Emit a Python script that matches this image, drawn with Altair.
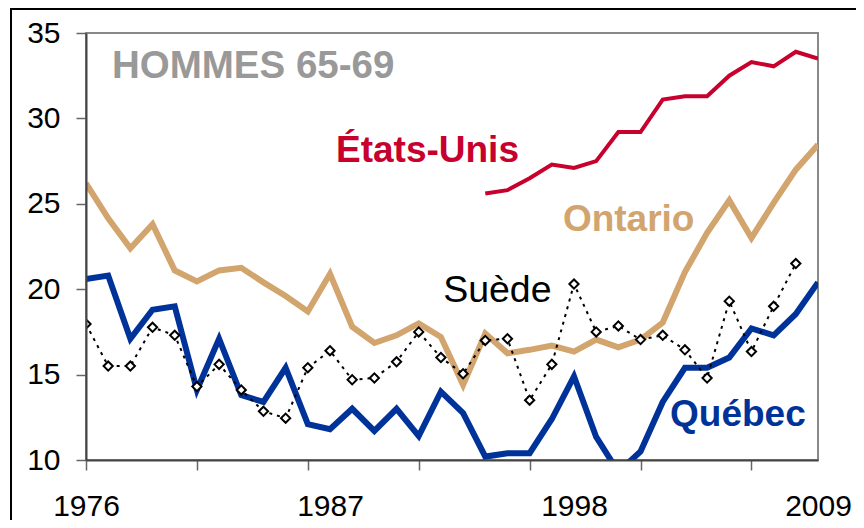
import altair as alt
import pandas as pd

# ---- data ----
years = list(range(1976, 2010))
quebec = [20.6, 20.8, 17.1, 18.8, 19.0, 14.1, 17.1, 13.8, 13.4, 15.4,
          12.1, 11.8, 13.0, 11.7, 13.0, 11.4, 14.0, 12.75, 10.2, 10.4,
          10.4, 12.4, 14.9, 11.35, 9.3, 10.5, 13.4, 15.4, 15.4, 16.0,
          17.7, 17.3, 18.55, 20.4]
ontario = [26.2, 24.15, 22.4, 23.8, 21.1, 20.45, 21.1, 21.25, 20.4, 19.6,
           18.7, 20.9, 17.8, 16.85, 17.3, 18.0, 17.2, 14.4, 17.4, 16.25,
           16.45, 16.7, 16.35, 17.05, 16.6, 17.05, 18.05, 21.0, 23.3, 25.2,
           23.0, 25.05, 27.0, 28.45]
us_years = list(range(1994, 2010))
etats_unis = [25.6, 25.8, 26.5, 27.3, 27.1, 27.5, 29.2, 29.2, 31.1, 31.3,
              31.3, 32.5, 33.3, 33.05, 33.9, 33.5]
se_years = list(range(1976, 2009))
suede = [17.96, 15.5, 15.5, 17.77, 17.3, 14.3, 15.6, 14.1, 12.85, 12.45,
         15.4, 16.4, 14.7, 14.8, 15.75, 17.5, 16.0, 15.05, 17.0, 17.1,
         13.5, 15.6, 20.3, 17.5, 17.85, 17.05, 17.3, 16.45, 14.8, 19.3,
         16.35, 19.0, 21.5]

y_ticks = [10, 15, 20, 25, 30, 35]
x_tick_marks = [1976, 1981, 1986, 1991, 1996, 2001, 2006]
x_tick_labels = [1976, 1987, 1998, 2009]

label_texts = ["HOMMES 65-69", "États-Unis", "Ontario", "Suède", "Québec"]
label_years = [1977.17, 1987.27, 1997.5, 1992.1, 2002.33]
label_values = [32.37, 27.45, 23.4, 19.25, 11.99]

FONT = "Liberation Sans"

df_q = pd.DataFrame({"year": years, "value": quebec})
df_o = pd.DataFrame({"year": years, "value": ontario})
df_u = pd.DataFrame({"year": us_years, "value": etats_unis})
df_s = pd.DataFrame({"year": se_years, "value": suede})
df_lab = pd.DataFrame({"year": label_years, "value": label_values, "text": label_texts})

all_x_vals = sorted(set(x_tick_marks) | set(x_tick_labels))
tick_list = ",".join(str(v) for v in x_tick_marks)
lab_list = ",".join(str(v) for v in x_tick_labels)

x_enc = alt.X(
    "year:Q",
    scale=alt.Scale(domain=[1976, 2009], nice=False, zero=False),
    axis=alt.Axis(
        values=all_x_vals,
        labelExpr=f"indexof([{lab_list}], datum.value) >= 0 ? '' + datum.value : ''",
        tickOpacity={"condition": {"test": f"indexof([{tick_list}], datum.value) >= 0", "value": 1}, "value": 0},
        tickSize=10, tickColor="#666666", tickWidth=1.5,
        domainColor="#444444", domainWidth=2,
        labelFont=FONT, labelFontSize=30, labelColor="black",
        labelPadding=21, labelFlush=False, labelOverlap=False, labelBound=False,
        grid=False, title=None, zindex=1,
    ),
)
y_enc = alt.Y(
    "value:Q",
    scale=alt.Scale(domain=[10, 35], nice=False, zero=False),
    axis=alt.Axis(
        values=y_ticks, format="d",
        tickSize=10, tickColor="#666666", tickWidth=1.5,
        domainColor="#444444", domainWidth=2,
        labelFont=FONT, labelFontSize=30, labelColor="black",
        labelPadding=16, labelOverlap=False,
        grid=False, title=None, zindex=1,
    ),
)

def line(df, color, width, **kw):
    return alt.Chart(df).mark_line(color=color, strokeWidth=width, clip=True,
                                   strokeJoin="miter", **kw).encode(x=x_enc, y=y_enc)

ontario_l = line(df_o, "#D2A46E", 6)
us_l = line(df_u, "#C8002D", 4)
quebec_l = line(df_q, "#003399", 6)
suede_l = line(df_s, "black", 2, strokeDash=[3, 5])
suede_p = alt.Chart(df_s).mark_point(shape="diamond", size=85, filled=True, fill="white",
                                     stroke="black", strokeWidth=2, opacity=1, clip=True).encode(x=x_enc, y=y_enc)

def label(i, color, size, weight):
    return alt.Chart(df_lab).transform_filter(
        alt.datum.text == label_texts[i]
    ).mark_text(align="left", baseline="alphabetic", font=FONT, fontSize=size,
                fontWeight=weight, color=color).encode(x=x_enc, y=y_enc, text="text:N")

labels = [
    label(0, "#999999", 38.5, "bold"),
    label(1, "#C8002D", 37, "bold"),
    label(2, "#D2A46E", 37, "bold"),
    label(3, "black", 37.5, "normal"),
    label(4, "#003399", 37, "bold"),
]

frame_df = pd.DataFrame({"a": [0]})
frame_left = alt.Chart(frame_df).mark_rule(color="black", strokeWidth=2).encode(
    x=alt.value(-75), y=alt.value(-25), y2=alt.value(487))
frame_top = alt.Chart(frame_df).mark_rule(color="black", strokeWidth=2).encode(
    x=alt.value(-76), x2=alt.value(780), y=alt.value(-24))

chart = alt.layer(
    frame_left, frame_top,
    ontario_l, us_l, quebec_l, suede_l, suede_p, *labels
).properties(
    width=732, height=427,
    autosize=alt.AutoSizeParams(type="none"),
    padding={"left": 78, "top": 25, "right": 38, "bottom": 60},
    background="white",
).configure_view(stroke="#888888", strokeWidth=2)

chart.save("out.html", embed_options={"renderer": "svg", "actions": False})
